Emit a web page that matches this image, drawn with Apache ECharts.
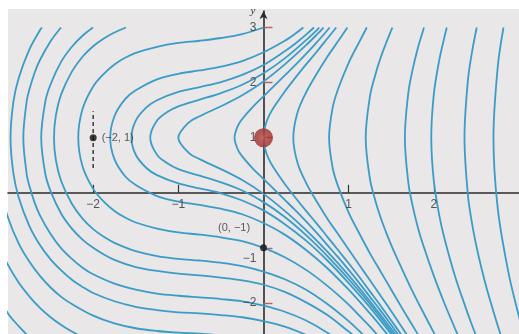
<!DOCTYPE html>
<html>
<head>
<meta charset="utf-8">
<script src="https://cdn.jsdelivr.net/npm/echarts@6/dist/echarts.min.js"></script>
<style>
  html, body { margin: 0; padding: 0; background: #ffffff; }
  #chart { width: 519px; height: 334px; }
</style>
</head>
<body>
<div id="chart"></div>
<script>
// Solution curves of the direction field, each listed as [x, y] points
const curve01 = [[-3.375,-1.09],[-3.25,-1.55],[-3,-2.19],[-2.875,-2.42],[-2.75,-2.62]];
const curve02 = [[-3.25,-0.30],[-3.125,-0.90],[-3,-1.31],[-2.875,-1.63],[-2.75,-1.88],[-2.625,-2.09],[-2.5,-2.26],[-2.375,-2.40],[-2.25,-2.52],[-2.125,-2.62]];
const curve03 = [[-3.1,0.14],[-3,-0.45],[-2.875,-0.92],[-2.75,-1.25],[-2.625,-1.51],[-2.5,-1.72],[-2.375,-1.89],[-2.25,-2.02],[-2,-2.23],[-1.75,-2.37],[-1.5,-2.46],[-1.25,-2.51],[-1,-2.54],[-0.75,-2.56],[-0.5,-2.59]];
const curve04 = [[-2.601,3],[-2.625,2.95],[-2.75,2.60],[-2.875,2.08],[-2.9375,1.64],[-2.97,1],[-2.9375,0.36],[-2.875,-0.08],[-2.75,-0.60],[-2.625,-0.95],[-2.5,-1.21],[-2.375,-1.41],[-2.25,-1.58],[-2.125,-1.71],[-2,-1.82],[-1.75,-1.97],[-1.5,-2.07],[-1.25,-2.13],[-1,-2.17],[-0.75,-2.19],[-0.5,-2.22],[-0.25,-2.26],[0,-2.33],[0.25,-2.43],[0.5,-2.58],[0.625,-2.68]];
const curve05 = [[-2.378,3],[-2.5,2.75],[-2.625,2.41],[-2.6875,2.18],[-2.75,1.87],[-2.78,1.67],[-2.82,1],[-2.78,0.33],[-2.75,0.13],[-2.6875,-0.18],[-2.625,-0.41],[-2.5,-0.75],[-2.375,-1.01],[-2.25,-1.20],[-2.125,-1.36],[-2,-1.48],[-1.75,-1.65],[-1.5,-1.76],[-1.25,-1.83],[-1,-1.87],[-0.75,-1.90],[-0.5,-1.93],[-0.25,-1.97],[0,-2.05],[0.25,-2.16],[0.5,-2.32],[0.75,-2.54],[0.875,-2.67]];
const curve06 = [[-2.002,3],[-2.125,2.85],[-2.25,2.65],[-2.375,2.38],[-2.5,1.97],[-2.5625,1.65],[-2.61,1],[-2.5625,0.35],[-2.5,0.03],[-2.375,-0.38],[-2.25,-0.65],[-2.125,-0.85],[-2,-1.00],[-1.875,-1.12],[-1.75,-1.22],[-1.5,-1.35],[-1.25,-1.42],[-1,-1.47],[-0.75,-1.50],[-0.5,-1.54],[-0.25,-1.59],[0,-1.67],[0.25,-1.80],[0.5,-1.99],[0.75,-2.22],[1,-2.52],[1.125,-2.68]];
const curve07 = [[-1.615,3],[-1.75,2.91],[-1.875,2.80],[-2,2.66],[-2.125,2.47],[-2.25,2.20],[-2.375,1.79],[-2.4375,1.41],[-2.46,1],[-2.4375,0.59],[-2.375,0.21],[-2.25,-0.20],[-2.125,-0.47],[-2,-0.66],[-1.875,-0.80],[-1.75,-0.91],[-1.5,-1.06],[-1.25,-1.15],[-1,-1.20],[-0.75,-1.23],[-0.5,-1.27],[-0.25,-1.33],[0,-1.43],[0.25,-1.57],[0.5,-1.76],[0.75,-2.02],[1,-2.33],[1.125,-2.51],[1.25,-2.70]];
const curve08 = [[0,3],[-0.25,2.88],[-0.5,2.81],[-0.75,2.76],[-1,2.72],[-1.25,2.65],[-1.5,2.54],[-1.625,2.45],[-1.75,2.33],[-1.875,2.16],[-2,1.93],[-2.125,1.52],[-2.175,1],[-2.125,0.48],[-2,0.07],[-1.875,-0.16],[-1.75,-0.33],[-1.625,-0.45],[-1.5,-0.54],[-1.25,-0.65],[-1,-0.72],[-0.75,-0.76],[-0.5,-0.81],[-0.25,-0.88],[0,-1],[0.25,-1.17],[0.5,-1.40],[0.75,-1.69],[1,-2.03],[1.125,-2.23],[1.25,-2.43],[1.375,-2.65]];
const curve09 = [[0.467,3],[0.375,2.89],[0.25,2.76],[0,2.55],[-0.25,2.39],[-0.5,2.29],[-0.75,2.22],[-1,2.16],[-1.25,2.06],[-1.5,1.86],[-1.625,1.70],[-1.75,1.39],[-1.8,1],[-1.75,0.61],[-1.625,0.30],[-1.5,0.14],[-1.25,-0.06],[-1,-0.16],[-0.75,-0.22],[-0.5,-0.29],[-0.25,-0.39],[0,-0.55],[0.25,-0.76],[0.5,-1.04],[0.75,-1.37],[1,-1.76],[1.25,-2.19],[1.375,-2.42],[1.5,-2.66]];
const curve10 = [[0.592,3],[0.5,2.87],[0.375,2.71],[0.25,2.57],[0,2.32],[-0.25,2.14],[-0.5,2.01],[-0.75,1.92],[-1,1.83],[-1.25,1.68],[-1.375,1.55],[-1.5,1.31],[-1.55,1],[-1.5,0.69],[-1.375,0.45],[-1.25,0.32],[-1,0.17],[-0.75,0.08],[-0.5,-0.01],[-0.25,-0.14],[0,-0.32],[0.25,-0.57],[0.5,-0.87],[0.75,-1.23],[1,-1.64],[1.25,-2.08],[1.5,-2.57],[1.625,-2.82]];
const curve11 = [[0.655,3],[0.625,2.95],[0.5,2.77],[0.25,2.44],[0,2.17],[-0.25,1.96],[-0.5,1.81],[-0.75,1.69],[-1,1.57],[-1.125,1.47],[-1.25,1.31],[-1.33,1],[-1.25,0.69],[-1.125,0.53],[-1,0.43],[-0.75,0.31],[-0.5,0.19],[-0.25,0.04],[0,-0.17],[0.25,-0.44],[0.5,-0.77],[0.75,-1.15],[1,-1.57],[1.25,-2.02],[1.5,-2.52],[1.625,-2.78]];
const curve12 = [[0.705,3],[0.625,2.87],[0.5,2.68],[0.25,2.33],[0,2.02],[-0.25,1.77],[-0.5,1.57],[-0.75,1.39],[-0.875,1.28],[-1,1],[-0.875,0.72],[-0.75,0.61],[-0.5,0.43],[-0.25,0.23],[0,-0.02],[0.25,-0.33],[0.5,-0.68],[0.75,-1.07],[1,-1.50],[1.25,-1.97],[1.5,-2.47],[1.625,-2.73]];
const curve13 = [[0.777,3],[0.75,2.95],[0.625,2.73],[0.5,2.52],[0.375,2.32],[0.25,2.13],[0.125,1.94],[0,1.75],[-0.125,1.56],[-0.25,1.34],[-0.3,1.22],[-0.34,1],[-0.3,0.78],[-0.25,0.66],[-0.125,0.44],[0,0.25],[0.125,0.06],[0.25,-0.13],[0.375,-0.32],[0.5,-0.52],[0.625,-0.73],[0.75,-0.95],[0.875,-1.17],[1,-1.40],[1.125,-1.64],[1.25,-1.89],[1.375,-2.14],[1.5,-2.40],[1.625,-2.67]];
const curve14 = [[0.854,3],[0.75,2.80],[0.625,2.56],[0.5,2.33],[0.375,2.09],[0.25,1.84],[0.125,1.56],[0.0625,1.39],[0.02,1.21],[0,1],[0.02,0.79],[0.0625,0.61],[0.125,0.44],[0.25,0.16],[0.375,-0.09],[0.5,-0.33],[0.625,-0.56],[0.75,-0.80],[0.875,-1.04],[1,-1.28],[1.125,-1.53],[1.25,-1.79],[1.375,-2.05],[1.5,-2.32],[1.625,-2.59]];
const curve15 = [[0.985,3],[0.875,2.75],[0.75,2.47],[0.625,2.16],[0.5,1.82],[0.4,1.46],[0.35,1],[0.4,0.54],[0.5,0.18],[0.625,-0.16],[0.75,-0.47],[0.875,-0.75],[1,-1.03],[1.125,-1.31],[1.25,-1.59],[1.375,-1.87],[1.5,-2.15],[1.625,-2.44],[1.75,-2.73]];
const curve16 = [[1.213,3],[1.125,2.74],[1,2.36],[0.875,1.88],[0.8125,1.55],[0.77,1],[0.8125,0.45],[0.875,0.12],[1,-0.36],[1.125,-0.74],[1.25,-1.10],[1.375,-1.43],[1.5,-1.76],[1.625,-2.09],[1.75,-2.41],[1.875,-2.73]];
const curve17 = [[1.514,3],[1.5,2.95],[1.4375,2.71],[1.375,2.45],[1.3125,2.14],[1.25,1.75],[1.2,1],[1.25,0.25],[1.3125,-0.14],[1.375,-0.45],[1.4375,-0.71],[1.5,-0.95],[1.625,-1.38],[1.75,-1.79],[1.875,-2.17],[2,-2.54],[2.0625,-2.73]];
const curve18 = [[1.884,3],[1.875,2.95],[1.8125,2.63],[1.75,2.23],[1.7,1.81],[1.66,1],[1.7,0.19],[1.75,-0.23],[1.8125,-0.63],[1.875,-0.95],[2,-1.51],[2.125,-2.01],[2.25,-2.47],[2.3,-2.65]];
const curve19 = [[2.152,3],[2.125,2.83],[2.0625,2.40],[2,1.79],[1.97,1],[2,0.21],[2.0625,-0.40],[2.125,-0.83],[2.25,-1.52],[2.375,-2.09],[2.4375,-2.36],[2.5,-2.61]];
const curve20 = [[2.504,3],[2.45,2.57],[2.4,2.04],[2.36,1],[2.4,-0.04],[2.45,-0.57],[2.5,-0.97],[2.5625,-1.39],[2.625,-1.76],[2.75,-2.41],[2.8,-2.65]];
const curve21 = [[2.818,3],[2.75,2.28],[2.7,1],[2.75,-0.28],[2.875,-1.44],[3,-2.25],[3.0625,-2.61]];

// Marked points and the tangent mark through (-2, 1)
const markedPoints = [[-2, 1], [0, -1]];
const markedLabels = ['(\u22122, 1)', '(0, \u22121)'];
const highlightPoint = [[0, 1]];
const tangentSegment = [[-2, 0.45], [-2, 1.48]];

// Axis ticks and their labels
const xTicks = [-2, -1, 1, 2];
const yTicks = [-2, -1, 1, 2, 3];
const xTickLabels = ['\u22122', '\u22121', '1', '2'];
const yTickLabels = ['\u22122', '\u22121', '1', '2', '3'];

const curves = [curve01, curve02, curve03, curve04, curve05, curve06, curve07, curve08, curve09, curve10,
  curve11, curve12, curve13, curve14, curve15, curve16, curve17, curve18, curve19, curve20, curve21];

const FONT = 'Liberation Sans, Arial, sans-serif';
const chart = echarts.init(document.getElementById('chart'), null, { renderer: 'canvas' });

const curveSeries = curves.map(pts => ({
  type: 'line',
  data: pts,
  smooth: 0.35,
  showSymbol: false,
  symbol: 'none',
  clip: true,
  silent: true,
  z: 2,
  lineStyle: { color: '#3b9cc7', width: 1.8 }
}));

chart.setOption({
  animation: false,
  backgroundColor: 'transparent',
  graphic: [{
    type: 'rect',
    z: -10,
    shape: { x: 8, y: 9, width: 511, height: 325 },
    style: { fill: '#e9e7e7' },
    silent: true
  }],
  grid: { left: 8, right: 0, top: 11, bottom: -24, containLabel: false, outerBoundsMode: 'none' },
  xAxis: {
    type: 'value', min: -3, max: 3,
    axisLine: { onZero: true, lineStyle: { color: '#2b2b2b', width: 1.6 } },
    axisTick: { show: true, inside: true, length: 8, customValues: xTicks, lineStyle: { color: '#333', width: 1.2 } },
    axisLabel: { show: false },
    splitLine: { show: false }
  },
  yAxis: {
    type: 'value', min: -3, max: 3.3,
    name: 'y', nameLocation: 'end', nameGap: -6,
    nameTextStyle: { color: '#333', fontSize: 11, fontStyle: 'italic', fontFamily: 'Liberation Serif, serif', align: 'right', padding: [0, 8, 0, 0] },
    axisLine: { onZero: true, symbol: ['none', 'arrow'], symbolSize: [6, 8], lineStyle: { color: '#2b2b2b', width: 1.6 } },
    axisTick: { show: true, inside: true, length: 9, customValues: yTicks, lineStyle: { color: '#b0665c', width: 1.4 } },
    axisLabel: { show: false },
    splitLine: { show: false }
  },
  series: curveSeries.concat([
    {
      // x tick labels sit just under the x axis
      type: 'scatter',
      data: xTicks.map((v, i) => ({ value: [v, 0], name: xTickLabels[i] })),
      symbolSize: 0, silent: true, z: 4,
      label: { show: true, formatter: p => p.name, position: 'bottom', distance: 6, color: '#2f2f2f', fontSize: 12, fontFamily: FONT }
    },
    {
      // y tick labels sit just left of the y axis
      type: 'scatter',
      data: yTicks.map((v, i) => ({ value: [0, v], name: yTickLabels[i] })),
      symbolSize: 0, silent: true, z: 4,
      label: { show: true, formatter: p => p.name, position: 'left', distance: 7, color: '#2f2f2f', fontSize: 12, fontFamily: FONT },
      labelLayout: p => p.dataIndex === 1 ? { dy: 11 } : {}
    },
    {
      type: 'line',
      data: tangentSegment,
      showSymbol: false, symbol: 'none', silent: true, z: 3,
      lineStyle: { color: '#1e1e1e', width: 1.3, type: [4, 3] }
    },
    {
      type: 'scatter',
      data: markedPoints.map((p, i) => ({ value: p, name: markedLabels[i] })),
      symbolSize: 7, silent: true, z: 5,
      itemStyle: { color: '#111' },
      label: {
        show: true,
        formatter: p => p.name,
        color: '#333', fontSize: 11, fontFamily: FONT,
        position: 'right', distance: 5
      },
      labelLayout: p => p.dataIndex === 1 ? { dx: -54, dy: -20 } : {}
    },
    {
      type: 'scatter',
      data: highlightPoint,
      symbolSize: 19, silent: true, z: 6,
      itemStyle: {
        color: { type: 'radial', x: 0.5, y: 0.5, r: 0.5,
          colorStops: [{ offset: 0, color: '#c8514a' }, { offset: 0.35, color: '#b03a35' }, { offset: 1, color: '#9c2a28' }] }
      }
    }
  ])
});
</script>
</body>
</html>
